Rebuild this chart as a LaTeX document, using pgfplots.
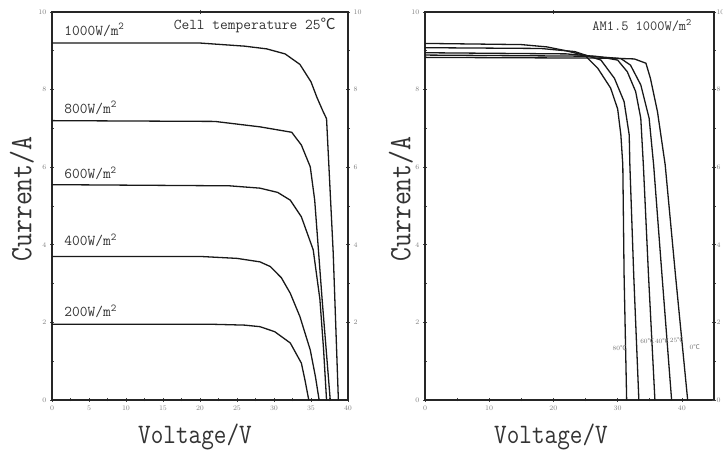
\documentclass[border=0pt]{standalone}
\usepackage{fontspec}
\usepackage{graphicx}
\usepackage{pgfplots}
\pgfplotsset{compat=1.18}
\newfontfamily\cjk{Noto Sans CJK SC}

% common frame for both I-V panels
\pgfplotsset{
  ivframe/.style={
    scale only axis, height=388pt, anchor=south west,
    ymin=0, ymax=10, ytick={0,2,...,10}, minor y tick num=1,
    axis line style={line width=1.3pt, black!85},
    tick style={black!75, line width=0.6pt},
    tick align=center, major tick length=4pt, minor tick length=3pt,
    tick label style={font=\fontsize{7.5}{8}\selectfont, text=black!50},
    clip=false,
  },
  overlay/.style={
    ivframe, axis x line*=top, axis y line*=right,
    xtick={20}, xticklabels={}, minor x tick num=0,
  },
  curve/.style={black!90, line width=1.3pt, mark=none, line join=round},
}
\newcommand{\lab}[1]{\fontsize{15}{15}\selectfont\ttfamily #1}
\newcommand{\tlab}[1]{\fontsize{6.5}{7}\selectfont #1{\cjk ℃}}

\begin{document}
\begin{tikzpicture}[x=1pt,y=1pt]
\path[use as bounding box] (0,0) rectangle (723,455);

% ---------- left: irradiance ----------
\begin{axis}[ivframe, at={(52pt,55pt)}, width=296pt,
  xmin=0, xmax=40, xtick={0,5,...,40}, minor x tick num=1,
  xtick pos=left, ytick pos=left]
\addplot[curve] coordinates {(0,9.2)(20,9.2)(26,9.12)(29,9.05)(31.5,8.92)(33.5,8.65)(35,8.2)(35.8,7.8)(36.6,7.45)(37.1,7.25)(38.0,3.8)(38.7,0)};
\addplot[curve] coordinates {(0,7.2)(22,7.18)(28.1,7.04)(32.4,6.9)(33.7,6.57)(34.9,6.01)(35.5,5.15)(36.5,2.6)(37.6,0)};
\addplot[curve] coordinates {(0,5.55)(24,5.52)(28.1,5.46)(30.5,5.35)(32.2,5.15)(33.7,4.72)(35.3,3.87)(36.2,2.6)(36.7,1.3)(37.1,0)};
\addplot[curve] coordinates {(0,3.7)(20,3.7)(25,3.65)(28.1,3.56)(29.5,3.44)(31,3.15)(32.2,2.75)(33.5,2.15)(34.9,1.29)(35.6,0.6)(36.1,0)};
\addplot[curve] coordinates {(0,1.95)(22,1.95)(26,1.93)(28.1,1.89)(30.1,1.76)(32.2,1.47)(33.7,0.95)(34.2,0.5)(34.7,0)};
\node[anchor=west, text=black!80] at (axis cs:1.2,9.54) {\lab{1000W/m\textsuperscript{2}}};
\node[anchor=west, text=black!80] at (axis cs:1.2,7.53) {\lab{800W/m\textsuperscript{2}}};
\node[anchor=west, text=black!80] at (axis cs:1.2,5.85) {\lab{600W/m\textsuperscript{2}}};
\node[anchor=west, text=black!80] at (axis cs:1.2,4.12) {\lab{400W/m\textsuperscript{2}}};
\node[anchor=west, text=black!80] at (axis cs:1.2,2.29) {\lab{200W/m\textsuperscript{2}}};
\node[anchor=east, text=black!80] at (axis cs:38.8,9.66) {\lab{Cell temperature 25{\cjk ℃}}};
\end{axis}
\begin{axis}[overlay, at={(52pt,55pt)}, width=296pt, xmin=0, xmax=40,
  ytick={2,4,...,10}]
\end{axis}

% ---------- right: temperature ----------
\begin{axis}[ivframe, at={(425pt,55pt)}, width=289pt,
  xmin=0, xmax=45, xtick={0,10,...,40}, minor x tick num=1,
  xtick pos=left, ytick pos=left]
\addplot[curve] coordinates {(0,9.19)(15,9.16)(19,9.1)(22,9.0)(24.9,8.88)(26.9,8.55)(28.9,8.04)(30,7.5)(30.5,6.83)(30.8,6.06)(31.0,3.22)(31.4,0)};
\addplot[curve] coordinates {(0,9.08)(18,9.06)(23.3,8.98)(27.4,8.76)(29.5,8.29)(31.0,7.69)(31.8,6.83)(31.9,6.06)(32.5,3.22)(33.3,0)};
\addplot[curve] coordinates {(0,8.95)(22,8.92)(27,8.85)(30,8.76)(31.5,8.46)(32.8,7.95)(33.6,7.26)(34.0,6.06)(34.8,3.22)(35.8,0)};
\addplot[curve] coordinates {(0,8.89)(26,8.86)(30.5,8.8)(32.0,8.63)(33.6,8.12)(34.9,7.26)(35.6,6.06)(36.9,3.22)(38.4,0)};
\addplot[curve] coordinates {(0,8.83)(29,8.81)(32.6,8.79)(34.4,8.68)(35.1,8.29)(36.2,7.43)(37.4,6.06)(39.0,3.22)(40.9,0)};
\node[anchor=east, text=black!80] at (axis cs:42.1,9.66) {\fontsize{14}{14}\selectfont\ttfamily AM1.5 1000W/m\textsuperscript{2}};
\node[text=black!55, inner sep=0pt] at (axis cs:30.3,1.34) {\tlab{80}};
\node[text=black!55, inner sep=0pt] at (axis cs:34.6,1.52) {\tlab{60}};
\node[text=black!55, inner sep=0pt] at (axis cs:36.9,1.52) {\tlab{40}};
\node[text=black!55, inner sep=0pt] at (axis cs:39.2,1.55) {\tlab{25}};
\node[text=black!55, inner sep=0pt] at (axis cs:42.0,1.37) {\tlab{0}};
\end{axis}
\begin{axis}[overlay, at={(425pt,55pt)}, width=289pt, xmin=0, xmax=45,
  yticklabel style={inner sep=0.3pt}]
\end{axis}

% axis titles
\node[text=black!80, rotate=90] at (22,256) {\scalebox{1}[1.15]{\fontsize{27}{27}\selectfont\ttfamily Current/A}};
\node[text=black!80, rotate=90] at (401,256) {\scalebox{1}[1.15]{\fontsize{27}{27}\selectfont\ttfamily Current/A}};
\node[text=black!80] at (195,18) {\scalebox{1}[1.15]{\fontsize{24.5}{25}\selectfont\ttfamily Voltage/V}};
\node[text=black!80] at (551,18) {\scalebox{1}[1.15]{\fontsize{24.5}{25}\selectfont\ttfamily Voltage/V}};
\end{tikzpicture}
\end{document}
